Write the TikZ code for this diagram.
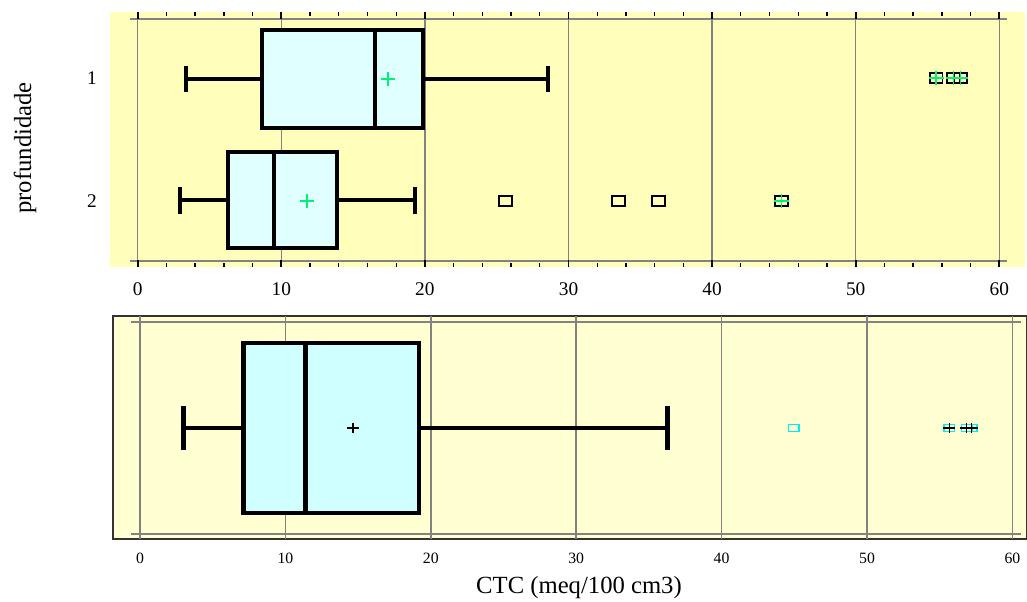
\documentclass[tikz,border=0pt]{standalone}
\usepackage{fontspec}
\setmainfont{Liberation Serif}
\definecolor{topbg}{RGB}{255,255,187}
\definecolor{botbg}{RGB}{255,255,210}
\definecolor{topcyan}{RGB}{224,255,255}
\definecolor{botcyan}{RGB}{208,255,255}
\definecolor{gridgray}{RGB}{130,130,130}
\definecolor{meangreen}{RGB}{0,240,120}
\definecolor{outcyan}{RGB}{0,240,240}
\tikzset{
  gridline/.style={draw=gridgray, line width=1.1pt},
  boxline/.style={line width=3pt, fill=topcyan},
  whisker/.style={line width=3pt},
  outlier/.style={draw, rectangle, inner sep=0pt, minimum width=9.5pt, minimum height=8pt, line width=1.4pt},
  meanplus/.style={draw=meangreen, line width=1.1pt},
  ticklabel/.style={font=\fontsize{14.5}{16}\selectfont},
  smalllabel/.style={font=\fontsize{11.8}{13}\selectfont},
  titlelabel/.style={font=\fontsize{18.5}{20}\selectfont},
}
\begin{document}
\begin{tikzpicture}[x=0.75pt,y=-0.75pt]
  \useasboundingbox (0,0) rectangle (1027,602);
  % upper panel
  \fill[topbg] (110,12) rectangle (1025,267);
  \draw[gridline] (130,19) -- (1007,19);
  \draw[gridline] (130,261) -- (1007,261);
  \begin{scope}[shift={(137.7,0)},x=10.77pt]
    \foreach \v in {0,10,...,60} {
      \draw[gridline] (\v,12) -- (\v,267);
      \draw[line width=1.3pt] (\v,12) -- (\v,19);
      \draw[line width=1.3pt] (\v,260) -- (\v,267);
      \node[ticklabel] (tu\v) at (\v,289) {\v};
    }
    \foreach \v in {2,4,6,8,12,14,16,18,22,24,26,28,32,34,36,38,42,44,46,48,52,54,56,58} {
      \draw[line width=1pt] (\v,12) -- (\v,16);
      \draw[line width=1pt] (\v,263) -- (\v,267);
    }
    % profundidade 1
    \draw[whisker] (3.36,79) -- (8.68,79);
    \draw[whisker] (19.9,79) -- (28.57,79);
    \draw[whisker] (3.36,66) -- (3.36,92);
    \draw[whisker] (28.57,66) -- (28.57,92);
    \draw[boxline] (8.68,30) rectangle (19.9,128);
    \draw[boxline] (16.55,30) -- (16.55,128);
    \draw[meanplus] (17.43,79) +(-5.6pt,0) -- +(5.6pt,0) +(0,-5pt) -- +(0,5pt);
    \node[outlier] (pa) at (55.6,78) {};
    \node[outlier] (pb) at (56.8,78) {};
    \node[outlier] (pc) at (57.3,78) {};
    \draw[meanplus] (55.6,78) +(-5.6pt,0) -- +(5.6pt,0) +(0,-5pt) -- +(0,5pt);
    \draw[meanplus] (56.8,78) +(-5.6pt,0) -- +(5.6pt,0) +(0,-5pt) -- +(0,5pt);
    \draw[meanplus] (57.3,78) +(-5.6pt,0) -- +(5.6pt,0) +(0,-5pt) -- +(0,5pt);
    % profundidade 2
    \draw[whisker] (2.95,200) -- (6.27,200);
    \draw[whisker] (13.9,200) -- (19.33,200);
    \draw[whisker] (2.95,187) -- (2.95,214);
    \draw[whisker] (19.33,187) -- (19.33,214);
    \draw[boxline] (6.27,152) rectangle (13.9,248);
    \draw[boxline] (9.51,152) -- (9.51,248);
    \draw[meanplus] (11.79,201) +(-5.6pt,0) -- +(5.6pt,0) +(0,-5pt) -- +(0,5pt);
    \node[outlier] (qa) at (25.6,201) {};
    \node[outlier] (qb) at (33.47,201) {};
    \node[outlier] (qc) at (36.28,201) {};
    \node[outlier] (qd) at (44.85,201) {};
    \draw[meanplus] (44.85,201) +(-5.6pt,0) -- +(5.6pt,0) +(0,-5pt) -- +(0,5pt);
  \end{scope}
  \node[ticklabel] (lev1) at (92,78) {1};
  \node[ticklabel] (lev2) at (92,201) {2};
  \node[titlelabel, rotate=90] (ylab) at (25,148) {profundidade};
  % lower panel
  \draw[fill=botbg, draw=black!80, line width=1.2pt] (113,316) rectangle (1027,539);
  \draw[gridline] (131,322) -- (1021,322);
  \draw[gridline] (131,534) -- (1021,534);
  \begin{scope}[shift={(140,0)},x=10.905pt]
    \foreach \v in {0,10,...,60} {
      \draw[gridline] (\v,316) -- (\v,539);
      \node[smalllabel] (tl\v) at (\v,558) {\v};
    }
    \draw[whisker] (2.98,428) -- (7.15,428);
    \draw[whisker] (19.19,428) -- (36.3,428);
    \draw[line width=3.6pt] (2.98,406) -- (2.98,450);
    \draw[line width=3.6pt] (36.3,406) -- (36.3,450);
    \draw[boxline, line width=3.7pt, fill=botcyan] (7.15,343) rectangle (19.19,513);
    \draw[boxline, line width=3.7pt] (11.37,343) -- (11.37,513);
    \draw[line width=0.8pt] (14.65,428) +(-4.6pt,0) -- +(4.6pt,0) +(0,-3.8pt) -- +(0,3.8pt);
    \node[outlier, draw=outcyan, minimum width=7.8pt, minimum height=5.6pt, line width=1.1pt] (ra) at (44.95,428) {};
    \node[outlier, draw=outcyan, minimum width=7.8pt, minimum height=5.6pt, line width=1.1pt] (rb) at (55.66,428) {};
    \node[outlier, draw=outcyan, minimum width=7.8pt, minimum height=5.6pt, line width=1.1pt] (rc) at (56.85,428) {};
    \node[outlier, draw=outcyan, minimum width=7.8pt, minimum height=5.6pt, line width=1.1pt] (rd) at (57.2,428) {};
    \draw[line width=0.8pt] (55.66,428) +(-4.6pt,0) -- +(4.6pt,0) +(0,-3.8pt) -- +(0,3.8pt);
    \draw[line width=0.8pt] (56.85,428) +(-4.6pt,0) -- +(4.6pt,0) +(0,-3.8pt) -- +(0,3.8pt);
    \draw[line width=0.8pt] (57.2,428) +(-4.6pt,0) -- +(4.6pt,0) +(0,-3.8pt) -- +(0,3.8pt);
  \end{scope}
  \node[titlelabel] (xlab) at (579,588) {CTC (meq/100 cm3)};
\end{tikzpicture}
\end{document}
